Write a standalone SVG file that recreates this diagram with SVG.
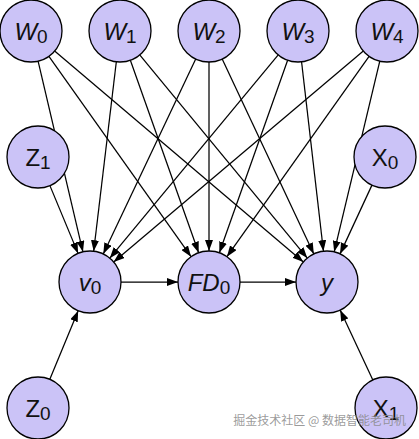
<svg xmlns="http://www.w3.org/2000/svg" width="419" height="439" viewBox="0 0 419 439">
<style>
.n circle{fill:#cbc3f7;stroke:#000;stroke-width:1.3}
.n text{font-family:"Liberation Sans",Arial,sans-serif;font-size:24px;fill:#111;text-anchor:middle}
.i{font-style:italic}
.s{font-size:19px;font-style:normal}
#edges line{stroke:#000;stroke-width:1.25;marker-end:url(#ah)}
.wm{font-family:"Noto Sans CJK SC","Liberation Sans",sans-serif;font-size:12px;fill:#888;fill-opacity:0.85}
</style>
<defs>
<marker id="ah" markerUnits="userSpaceOnUse" markerWidth="12" markerHeight="8" refX="11" refY="4" orient="auto">
<path d="M0,0 L11,4 L0,8 z" fill="#000"/>
</marker>
</defs>
<rect width="419" height="439" fill="#fff"/>
<g id="edges">
<line x1="38.09" y1="61.18" x2="82.91" y2="251.82"/>
<line x1="48.93" y1="56.29" x2="191.07" y2="256.71"/>
<line x1="54.64" y1="51.05" x2="303.36" y2="261.95"/>
<line x1="116.32" y1="61.78" x2="93.68" y2="251.22"/>
<line x1="130.36" y1="60.22" x2="198.64" y2="252.78"/>
<line x1="139.72" y1="54.92" x2="307.28" y2="258.08"/>
<line x1="195.72" y1="59.01" x2="103.28" y2="253.99"/>
<line x1="209" y1="62" x2="209" y2="251"/>
<line x1="222.19" y1="59.06" x2="313.81" y2="253.94"/>
<line x1="278.22" y1="54.87" x2="109.78" y2="258.13"/>
<line x1="287.64" y1="60.22" x2="219.36" y2="252.78"/>
<line x1="301.56" y1="61.80" x2="323.44" y2="251.20"/>
<line x1="363.32" y1="51.01" x2="113.68" y2="261.99"/>
<line x1="369.07" y1="56.29" x2="226.93" y2="256.71"/>
<line x1="379.79" y1="61.15" x2="334.21" y2="251.85"/>
<line x1="49.91" y1="185.62" x2="78.09" y2="253.38"/>
<line x1="371.95" y1="185.12" x2="340.05" y2="253.88"/>
<line x1="121" y1="282" x2="178" y2="282"/>
<line x1="240" y1="282" x2="296" y2="282"/>
<line x1="49.83" y1="379.34" x2="78.17" y2="310.66"/>
<line x1="372.85" y1="379.93" x2="340.15" y2="310.07"/>
</g>
<g id="W0" class="n"><circle cx="31" cy="31" r="31"/><text x="31" y="40"><tspan class="i">W</tspan><tspan class="s" dy="3">0</tspan></text></g>
<g id="W1" class="n"><circle cx="120" cy="31" r="31"/><text x="120" y="40"><tspan class="i">W</tspan><tspan class="s" dy="3">1</tspan></text></g>
<g id="W2" class="n"><circle cx="209" cy="31" r="31"/><text x="209" y="40"><tspan class="i">W</tspan><tspan class="s" dy="3">2</tspan></text></g>
<g id="W3" class="n"><circle cx="298" cy="31" r="31"/><text x="298" y="40"><tspan class="i">W</tspan><tspan class="s" dy="3">3</tspan></text></g>
<g id="W4" class="n"><circle cx="387" cy="31" r="31"/><text x="387" y="40"><tspan class="i">W</tspan><tspan class="s" dy="3">4</tspan></text></g>
<g id="Z1" class="n"><circle cx="38" cy="157" r="31"/><text x="38" y="166"><tspan>Z</tspan><tspan class="s" dy="3">1</tspan></text></g>
<g id="X0" class="n"><circle cx="385" cy="157" r="31"/><text x="385" y="166"><tspan>X</tspan><tspan class="s" dy="3">0</tspan></text></g>
<g id="v0" class="n"><circle cx="90" cy="282" r="31"/><text x="90" y="291"><tspan class="i">v</tspan><tspan class="s" dy="3">0</tspan></text></g>
<g id="FD0" class="n"><circle cx="209" cy="282" r="31"/><text x="209" y="291"><tspan class="i">FD</tspan><tspan class="s" dy="3">0</tspan></text></g>
<g id="y" class="n"><circle cx="327" cy="282" r="31"/><text x="327" y="291"><tspan class="i">y</tspan></text></g>
<g id="Z0" class="n"><circle cx="38" cy="408" r="31"/><text x="38" y="417"><tspan>Z</tspan><tspan class="s" dy="3">0</tspan></text></g>
<g id="X1" class="n"><circle cx="386" cy="408" r="31"/><text x="386" y="417"><tspan>X</tspan><tspan class="s" dy="3">1</tspan></text></g>
<text class="wm" x="406" y="425" text-anchor="end">掘金技术社区 @ 数据智能老司机</text>
</svg>
